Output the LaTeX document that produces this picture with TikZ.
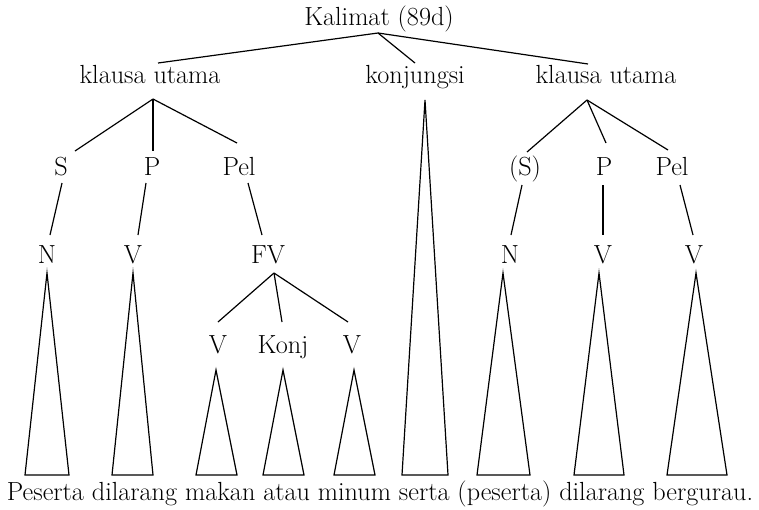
\documentclass[tikz,border=0pt]{standalone}
\begin{document}
\begin{tikzpicture}[x=1pt,y=-1pt,
  lbl/.style={anchor=base,inner sep=0pt,font=\fontsize{26.2}{30}\selectfont},
  br/.style={line width=1.2pt},
  tri/.style={line width=1.2pt,line join=miter}]
\useasboundingbox (0,0) rectangle (759,509);
% labels
\node[lbl] (kal) at (379,25) {Kalimat (89d)};
\node[lbl] (kuL) at (150,83) {klausa utama};
\node[lbl] (konj) at (415,83) {konjungsi};
\node[lbl] (kuR) at (606,83) {klausa utama};
\node[lbl] (S1) at (61,175) {S};
\node[lbl] (P1) at (152,175) {P};
\node[lbl] (Pel1) at (239,175) {Pel};
\node[lbl] (S2) at (525,175) {(S)};
\node[lbl] (P2) at (604,175) {P};
\node[lbl] (Pel2) at (672,175) {Pel};
\node[lbl] (N1) at (47,263) {N};
\node[lbl] (V1) at (133,263) {V};
\node[lbl] (FV) at (268,263) {FV};
\node[lbl] (N2) at (510,263) {N};
\node[lbl] (V2) at (603,263) {V};
\node[lbl] (V3) at (694,263) {V};
\node[lbl] (Va) at (218,353) {V};
\node[lbl] (Kj) at (283,353) {Konj};
\node[lbl] (Vb) at (352,353) {V};
\node[lbl] (sent) at (380,500) {Peserta dilarang makan atau minum serta (peserta) dilarang bergurau.};
% branch points and ends
\coordinate (kalB) at (378,33);
\coordinate (kuLT) at (158,63);
\coordinate (konjT) at (415,63);
\coordinate (kuRT) at (588,64);
\coordinate (kuLB) at (153,99);
\coordinate (S1T) at (75,151);
\coordinate (P1T) at (153,151);
\coordinate (Pel1T) at (237,143);
\coordinate (kuRB) at (587,100);
\coordinate (S2T) at (527,152);
\coordinate (P2T) at (606,143);
\coordinate (Pel2T) at (668,150);
\coordinate (S1B) at (62,183);   \coordinate (N1T) at (50,235);
\coordinate (P1B) at (146,183);  \coordinate (V1T) at (138,235);
\coordinate (Pel1B) at (248,183);\coordinate (FVT) at (262,235);
\coordinate (S2B) at (522,185);  \coordinate (N2T) at (511,235);
\coordinate (P2B) at (603,185);  \coordinate (V2T) at (603,235);
\coordinate (Pel2B) at (680,185);\coordinate (V3T) at (693,235);
\coordinate (FVB) at (274,273);
\coordinate (VaT) at (218,322);
\coordinate (KjT) at (282,322);
\coordinate (VbT) at (348,322);
% top level
\draw[br] (kuLT) -- (kalB) -- (konjT);
\draw[br] (kalB) -- (kuRT);
% clause branches
\draw[br] (kuLB) -- (S1T);
\draw[br] (kuLB) -- (P1T);
\draw[br] (kuLB) -- (Pel1T);
\draw[br] (kuRB) -- (S2T);
\draw[br] (kuRB) -- (P2T);
\draw[br] (kuRB) -- (Pel2T);
% unary
\draw[br] (S1B) -- (N1T);
\draw[br] (P1B) -- (V1T);
\draw[br] (Pel1B) -- (FVT);
\draw[br] (S2B) -- (N2T);
\draw[br] (P2B) -- (V2T);
\draw[br] (Pel2B) -- (V3T);
% FV
\draw[br] (FVB) -- (VaT);
\draw[br] (FVB) -- (KjT);
\draw[br] (FVB) -- (VbT);
% triangles
\draw[tri] (47,273) -- (69,475) -- (25,475) -- cycle;
\draw[tri] (133,273) -- (153,475) -- (112,475) -- cycle;
\draw[tri] (216,370) -- (237,475) -- (196,475) -- cycle;
\draw[tri] (283,370) -- (304,475) -- (263,475) -- cycle;
\draw[tri] (354,370) -- (375,475) -- (334,475) -- cycle;
\draw[tri] (425,100) -- (448,475) -- (402,475) -- cycle;
\draw[tri] (503,273) -- (530,475) -- (477,475) -- cycle;
\draw[tri] (599,273) -- (624,475) -- (574,475) -- cycle;
\draw[tri] (696,273) -- (727,475) -- (667,475) -- cycle;
\end{tikzpicture}
\end{document}
